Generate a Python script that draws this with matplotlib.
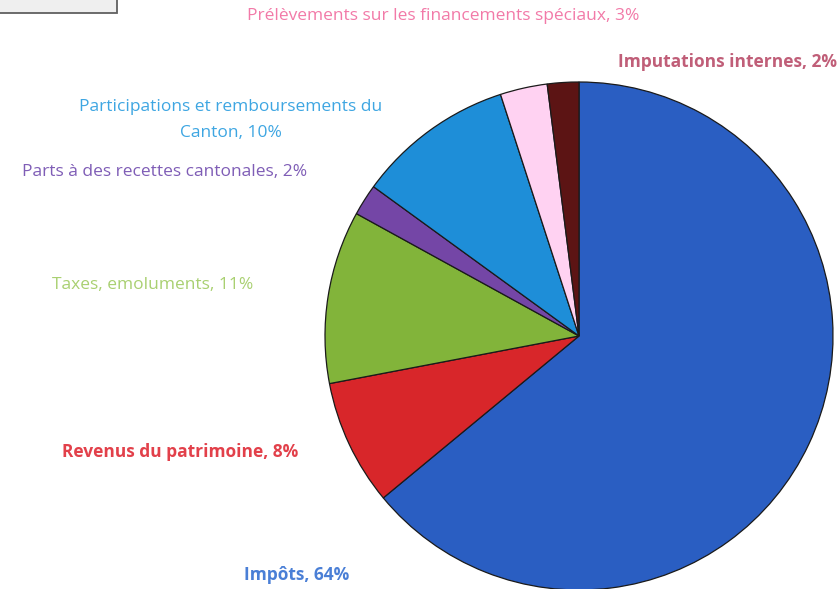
import matplotlib.pyplot as plt
from matplotlib.patches import Rectangle

plt.rcParams['font.family'] = ['Open Sans', 'DejaVu Sans']

# data
labels = ["Impôts", "Revenus du patrimoine", "Taxes, emoluments",
          "Parts à des recettes cantonales",
          "Participations et remboursements du\nCanton",
          "Prélèvements sur les financements spéciaux",
          "Imputations internes"]
shares = [64, 8, 11, 2, 10, 3, 2]
slice_colors = ["#2a5ec2", "#d8262a", "#82b43a", "#7446a6", "#1e8ed8", "#ffd2f2", "#5c1414"]
label_colors = ["#4a7fd6", "#e2404a", "#a9d071", "#7f5db6", "#3ea6e2", "#f27aa8", "#c05e78"]
label_bold = [True, True, False, False, False, False, True]
# label centres in pixel coords (from top-left)
label_pos = [(297, 575), (180, 452), (153, 285), (165, 172), (231, 120), (443, 16), (727, 62)]

W, H = 840, 589
fig = plt.figure(figsize=(W / 100, H / 100), dpi=100)
ax = fig.add_axes([0, 0, 1, 1])

ax.pie(shares, colors=slice_colors, startangle=90, counterclock=False,
       center=(579, H - 336), radius=254, frame=True,
       wedgeprops=dict(edgecolor="#1a1a1a", linewidth=0.9))
ax.set_xlim(0, W)
ax.set_ylim(0, H)
ax.set_aspect('equal')
ax.axis('off')

for lab, s, c, b, (px, py) in zip(labels, shares, label_colors, label_bold, label_pos):
    ax.text(px, H - py, f"{lab}, {s}%", color=c, fontsize=12.5,
            fontweight="bold" if b else "normal", ha="center", va="center",
            linespacing=1.85)

# clipped legend box in top-left corner
ax.add_patch(Rectangle((-2, H - 13), 119, 20, facecolor="#efefef",
                       edgecolor="#606060", linewidth=1.3, clip_on=False))

fig.savefig("out.png", dpi=100)
